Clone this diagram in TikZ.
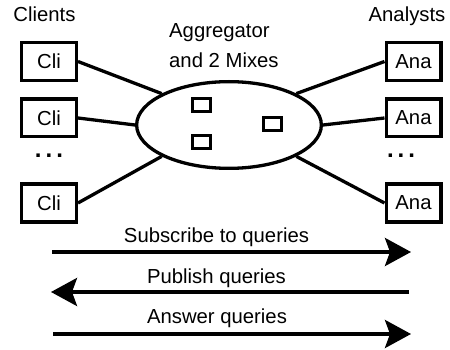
\documentclass[tikz,border=0pt]{standalone}
\usepackage{fontspec}
\setmainfont{Liberation Sans}
\usetikzlibrary{arrows.meta,shapes.geometric}
\begin{document}
\begin{tikzpicture}[x=1pt,y=-1pt,
  every node/.style={font=\fontsize{20.3}{24}\selectfont},
  party/.style={draw,line width=3.3pt,minimum width=54.7pt,minimum height=37.7pt,inner sep=0pt},
  mixbox/.style={draw,line width=3.3pt,minimum width=17.7pt,minimum height=12.7pt,inner sep=0pt},
  hub/.style={draw,ellipse,line width=3.3pt,minimum width=184.7pt,minimum height=86.7pt,inner sep=0pt},
  link/.style={line width=3.3pt},
  flow/.style={line width=3.6pt,-{Stealth[length=26pt,width=28pt,inset=5pt]}},
  lbl/.style={anchor=base,inner sep=0pt},
  dots/.style={anchor=base,inner sep=0pt,font=\fontsize{24}{28}\bfseries\selectfont}]
\useasboundingbox (0,0) rectangle (450,350);

% headings
\node[lbl] (clients) at (44.5,22) {Clients};
\node[lbl] (analysts) at (407,22) {Analysts};
\node[lbl,anchor=base west] (agg1) at (169,38) {Aggregator};
\node[lbl,anchor=base west] (agg2) at (169,68) {and 2 Mixes};

% aggregator with its mixes
\node[hub] (agg) at (229,125) {};
\node[mixbox] (m1) at (201.5,105) {};
\node[mixbox] (m2) at (201.5,142) {};
\node[mixbox] (m3) at (272.5,124) {};

% clients
\node[party] (c1) at (49,61.5) {Cli};
\node[party] (c2) at (49,118) {Cli};
\node[dots] (cd) at (49,157.5) {.\,.\,.};
\node[party] (c3) at (49,203) {Cli};

% analysts
\node[party] (a1) at (413.5,61.5) {Ana};
\node[party] (a2) at (413.5,118) {Ana};
\node[dots] (ad) at (401,157.5) {.\,.\,.};
\node[party] (a3) at (413.5,203) {Ana};

% connections
\draw[link] (c1.east) -- (agg.155);
\draw[link] (c2.east) -- (agg.west);
\draw[link] (c3.east) -- (agg.205);
\draw[link] (a1.west) -- (agg.25);
\draw[link] (a2.west) -- (agg.east);
\draw[link] (a3.west) -- (agg.-25);

% protocol phases
\coordinate (s1) at (52,252);  \coordinate (e1) at (411,252);
\coordinate (s2) at (409,292); \coordinate (e2) at (51,292);
\coordinate (s3) at (53,334);  \coordinate (e3) at (411,334);
\node[lbl] (t1) at (216.5,242) {Subscribe to queries};
\node[lbl] (t2) at (216.5,283) {Publish queries};
\node[lbl] (t3) at (217,323) {Answer queries};
\draw[flow] (s1) -- (e1);
\draw[flow] (s2) -- (e2);
\draw[flow] (s3) -- (e3);
\end{tikzpicture}
\end{document}
